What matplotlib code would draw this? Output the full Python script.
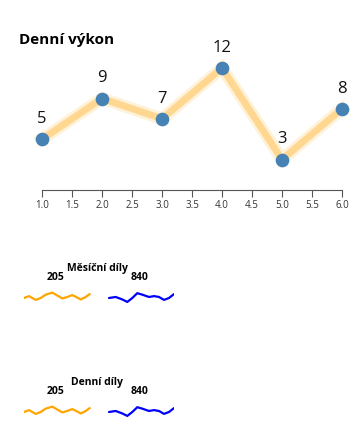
import matplotlib
matplotlib.use("Agg")
import matplotlib.pyplot as plt
import numpy as np

plt.rcParams['font.family'] = ['Open Sans', 'DejaVu Sans']

# main series
days = [1, 2, 3, 4, 5, 6]
vykon = [5, 9, 7, 12, 3, 8]
xticks = [1.0, 1.5, 2.0, 2.5, 3.0, 3.5, 4.0, 4.5, 5.0, 5.5, 6.0]

# small wavy sparklines
wave_orange_x = [0, 5, 11.7, 16.7, 21.7, 28.3, 33.3, 38.3, 43.3, 48.3, 53.3, 56.7, 61.7, 65.7]
wave_orange_y = [0, 1.3, -1.3, 0, 2.3, 3.7, 1.7, -0.3, 0.7, 2, 0.3, -1, 0.7, 2.7]
wave_blue_x = [85, 91.7, 98.3, 103.3, 108.3, 113.3, 118.3, 125, 130, 135, 140, 145, 150]
wave_blue_y = [0, 0.7, -1, -2.7, 0, 3.3, 2.3, 0.7, 1.3, 0.7, -1.3, 0, 2.7]
groups = ["Měsíční díly", "Denní díly"]
group_values = [(205, 840), (205, 840)]

W, H = 362, 443
fig = plt.figure(figsize=(W / 100, H / 100), dpi=100)

def box(x0, y0, x1, y1):
    return [x0 / W, 1 - y1 / H, (x1 - x0) / W, (y1 - y0) / H]

ax = fig.add_axes(box(42, 68, 342, 190))
ax.plot(days, vykon, color='#FFD68A', lw=9, alpha=0.3, solid_joinstyle='miter', zorder=1, clip_on=False)
ax.plot(days, vykon, color='#FFD384', lw=5, alpha=0.85, solid_joinstyle='miter', zorder=2, clip_on=False)
ax.plot(days, vykon, 'o', color='#4682B4', ms=8.8, zorder=3, clip_on=False)
for x, y in zip(days, vykon):
    ax.annotate(str(y), (x, y), xytext=(0, 14.5), textcoords='offset points',
                ha='center', va='center', fontsize=12, color='#111111')
ax.set_xlim(1, 6)
ax.set_ylim(0, 12)
ax.set_xticks(xticks)
ax.set_xticklabels([f"{t:.1f}" for t in xticks])
ax.set_yticks([])
for s in ['top', 'right', 'left']:
    ax.spines[s].set_visible(False)
ax.spines['bottom'].set_color('#555555')
ax.tick_params(axis='x', length=5, color='#555555', labelsize=7, labelcolor='#333333', pad=2)
ax.patch.set_alpha(0)

fig.text(19 / W, 1 - 40 / H, "Denní výkon", fontsize=11, fontweight='bold', va='center', ha='left')

# sparkline groups
tops = [268, 382]
for title, vals, t in zip(groups, group_values, tops):
    fig.text(97 / W, 1 - t / H, title, fontsize=7.5, fontweight='bold', ha='center', va='center')
    fig.text(56 / W, 1 - (t + 9) / H, str(vals[0]), fontsize=7.5, fontweight='bold', ha='center', va='center')
    fig.text(140 / W, 1 - (t + 9) / H, str(vals[1]), fontsize=7.5, fontweight='bold', ha='center', va='center')
    wax = fig.add_axes(box(24, t + 22, 174, t + 38))
    wax.plot(wave_orange_x, wave_orange_y, color='#FFA500', lw=1.6,
             solid_joinstyle='round', solid_capstyle='round')
    wax.plot(wave_blue_x, wave_blue_y, color='#0000FF', lw=1.6,
             solid_joinstyle='round', solid_capstyle='round')
    wax.set_xlim(0, 150)
    wax.set_ylim(-5.5, 5.5)
    wax.axis('off')

fig.savefig("out.png", dpi=100)
